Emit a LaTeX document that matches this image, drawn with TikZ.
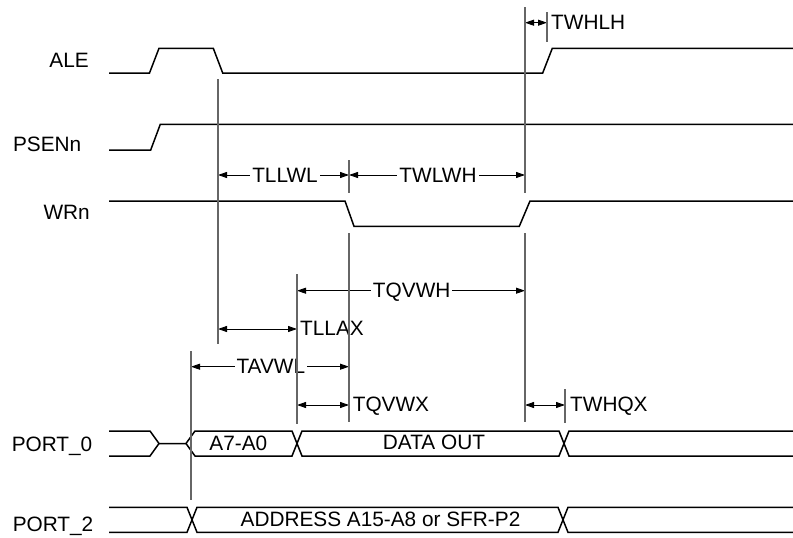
\documentclass[tikz,border=0pt]{standalone}
\usepackage{fontspec}
\setmainfont{Liberation Sans}
\usetikzlibrary{arrows.meta}
\begin{document}
\begin{tikzpicture}[x=1pt,y=-1pt,
  wave/.style={line width=1.5pt, line join=miter},
  guide/.style={line width=1.2pt, draw=black!60},
  dimarrow/.style={line width=0.9pt, {Triangle[length=9pt,width=6pt]}-{Triangle[length=9pt,width=6pt]}},
  lab/.style={font=\fontsize{20.8}{24}\selectfont, inner sep=0pt},
  dimlab/.style={lab, fill=white, inner xsep=2pt, inner ysep=1pt}]
\useasboundingbox (0,0) rectangle (793,538);

% signal names
\node[lab, anchor=base east] (nALE)   at (89,67.3)  {ALE};
\node[lab, anchor=base east] (nPSEN)  at (81.5,151.5) {PSENn};
\node[lab, anchor=base east] (nWR)    at (90,219.3) {WRn};
\node[lab, anchor=base east] (nP0)    at (92.5,451) {PORT\_0};
\node[lab, anchor=base east] (nP2)    at (93.5,531.5) {PORT\_2};

% waveforms
\draw[wave] (109,73) -- (149.5,73) -- (159,48.3) -- (213.3,48.3) -- (222.7,73)
  -- (542.7,73) -- (552.3,48.3) -- (793,48.3);
\draw[wave] (109,150) -- (150.7,150) -- (160.3,124.3) -- (793,124.3);
\draw[wave] (109,201) -- (345,201) -- (354,226.3) -- (519.3,226.3) -- (530,201) -- (793,201);
% PORT_0 bus
\draw[wave] (109,431) -- (150,431) -- (159,443.5) -- (186,443.5) -- (195,431) -- (292,431)
  -- (302,456) -- (559,456) -- (569,431) -- (793,431);
\draw[wave] (109,456) -- (150,456) -- (159,443.5);
\draw[wave] (186,443.5) -- (195,456) -- (292,456) -- (302,431) -- (559,431) -- (569,456) -- (793,456);
% PORT_2 bus
\draw[wave] (109,507.3) -- (187,507.3) -- (197,532.3) -- (558,532.3) -- (568,507.3) -- (793,507.3);
\draw[wave] (109,532.3) -- (187,532.3) -- (197,507.3) -- (558,507.3) -- (568,532.3) -- (793,532.3);

% bus contents
\node[lab] (tA7) at (238.3,443) {A7-A0};
\node[lab, anchor=base] (tDO) at (434,449.3) {DATA OUT};
\node[lab, anchor=base] (tADR) at (380.5,526.7) {ADDRESS A15-A8 or SFR-P2};
\path (tA7.base) ++(0,0);

% dimension arrows and labels
\draw[dimarrow] (525,22.7) -- (547,22.7);
\node[lab, anchor=base west] (lTWHLH) at (551,29.3) {TWHLH};

\draw[dimarrow] (218,175) -- (349,175);
\node[dimlab, anchor=base] (lTLLWL) at (285,182.3) {TLLWL};
\draw[dimarrow] (349,175) -- (525,175);
\node[dimlab, anchor=base] (lTWLWH) at (438,182.3) {TWLWH};

\draw[dimarrow] (297,290.7) -- (525,290.7);
\node[dimlab, anchor=base] (lTQVWH) at (411.7,297.3) {TQVWH};

\draw[dimarrow] (218,329) -- (297,329);
\node[lab, anchor=base west] (lTLLAX) at (300,335.7) {TLLAX};

\draw[dimarrow] (191,366.7) -- (349,366.7);
\node[dimlab, anchor=base] (lTAVWL) at (270.8,373.3) {TAVWL};

\draw[dimarrow] (297,405) -- (349,405);
\node[lab, anchor=base west] (lTQVWX) at (352.6,411.7) {TQVWX};

\draw[dimarrow] (525,405) -- (565,405);
\node[lab, anchor=base west] (lTWHQX) at (570,411.7) {TWHQX};

% reference lines
\draw[guide] (218,79) -- (218,344);
\draw[guide] (525,7) -- (525,193);
\draw[guide] (525,233) -- (525,422);
\draw[guide] (547,12) -- (547,42);
\draw[guide] (349,160) -- (349,193);
\draw[guide] (349,233) -- (349,422);
\draw[guide] (297,274) -- (297,424);
\draw[guide] (191,351) -- (191,500);
\draw[guide] (565,389) -- (565,423);
\end{tikzpicture}
\end{document}
